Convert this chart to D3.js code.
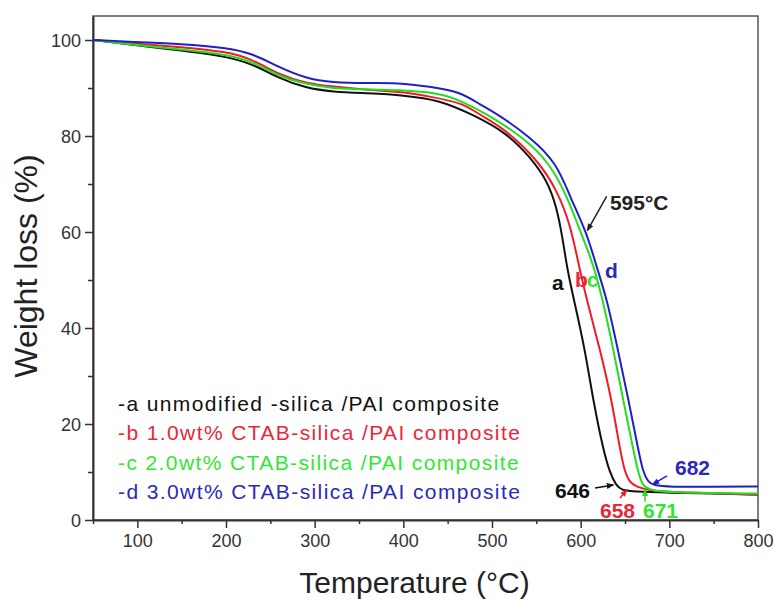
<!DOCTYPE html>
<html>
<head>
<meta charset="utf-8">
<script src="https://cdn.jsdelivr.net/npm/d3@7"></script>
<style>
    body { margin: 0; background: #fff; }
    text { font-family: "Liberation Sans", Arial, sans-serif; }
</style>
</head>
<body>
<div id="chart-area"></div>
<script>

// curve a - unmodified silica
var tempA = [50, 95, 150, 200, 230, 260, 290, 320, 360, 400, 441, 479, 517, 543, 562, 573, 580, 585, 592.5, 605, 614, 625.5, 633, 640, 646, 660, 700, 750, 800];
var lossA = [100, 99, 97.8, 96.6, 95, 92, 90, 89.2, 88.9, 88.5, 87.5, 84.4, 80.6, 75.6, 70.8, 65.2, 58.3, 52.1, 45.8, 35.4, 25, 14.6, 9.8, 7.2, 6.2, 5.9, 5.7, 5.5, 5.3];

// curve b - 1.0wt%
var tempB = [50, 95, 150, 200, 230, 260, 290, 320, 360, 400, 430, 467, 487, 517, 554, 573, 588, 599, 607, 622, 635, 644.4, 650, 655, 661, 680, 720, 800];
var lossB = [100, 99.3, 98.5, 97.6, 96, 92.7, 91, 90.3, 89.6, 89.2, 88.2, 86.9, 84.3, 81.2, 74.4, 68.7, 61.9, 52.1, 45.8, 35.4, 25, 14.6, 9.8, 8, 7, 6, 5.7, 5.3];

// curve c - 2.0wt%
var tempC = [50, 95, 150, 200, 230, 260, 290, 320, 360, 393, 441, 465, 492, 535, 565, 585, 599, 614, 625, 637, 648, 659.4, 665, 670, 680, 720, 800];
var lossC = [100, 99, 98, 97, 95.5, 92.4, 90.8, 89.9, 89.7, 89.6, 89, 87.3, 84.8, 79.8, 74.4, 67.3, 60.4, 53.5, 45.8, 35.4, 25, 14.6, 9.8, 7, 6, 5.7, 5.5];

// curve d - 3.0wt%
var tempD = [50, 95, 150, 200, 230, 260, 290, 320, 360, 393, 430, 464, 486, 506, 543, 573, 588, 607, 618, 630, 642, 654, 665, 670.6, 676, 682, 700, 750, 800];
var lossD = [100, 99.6, 99.2, 98.4, 97.2, 94.3, 92, 91.1, 91, 91.1, 90.3, 89.2, 86.6, 84.6, 79.8, 74.4, 67.3, 59.8, 52.7, 45.8, 35.4, 25, 14.6, 9.8, 8, 7.2, 6.9, 6.9, 7];

var seriesKeys = ["a", "b", "c", "d"];
var legendLabels = [
    "-a unmodified -silica /PAI composite",
    "-b 1.0wt% CTAB-silica /PAI composite",
    "-c 2.0wt% CTAB-silica /PAI composite",
    "-d 3.0wt% CTAB-silica /PAI composite"
];
var xTicks = [100, 200, 300, 400, 500, 600, 700, 800];
var yTicks = [0, 20, 40, 60, 80, 100];

// onset / end temperatures marked on the plot
var endLabels = ["646", "658", "671", "682"];
var onsetLabel = "595°C";

// constructor function
LineChart = function(_parentElement, _svgWidth, _svgHeight) {
    this.parentElement = _parentElement;
    this.svgWidth = _svgWidth;
    this.svgHeight = _svgHeight;

    this.initVis();
}

LineChart.prototype.initVis = function() {
    var vis = this;

    vis.margin = {top: 16, right: 16, bottom: 80, left: 93};
    vis.width = vis.svgWidth - vis.margin.left - vis.margin.right;
    vis.height = vis.svgHeight - vis.margin.top - vis.margin.bottom;

    vis.colour = d3.scaleOrdinal()
        .domain(seriesKeys)
        .range(["#111111", "#ee1c24", "#22dd22", "#2020c8"]);
    vis.textColour = d3.scaleOrdinal()
        .domain(seriesKeys)
        .range(["#111111", "#e8283a", "#33e633", "#2a2ab8"]);

    vis.svg = d3.select(vis.parentElement).append("svg")
        .attr("width", vis.svgWidth).attr("height", vis.svgHeight);

    vis.g = vis.svg.append("g")
        .attr("transform", "translate(" + vis.margin.left + " " + vis.margin.top + ")");

    vis.x = d3.scaleLinear().domain([50, 800]).range([0, vis.width]);
    vis.y = d3.scaleLinear().domain([0, 105]).range([vis.height, 0]);

    // frame
    vis.g.append("rect")
        .attr("width", vis.width).attr("height", vis.height)
        .attr("fill", "none")
        .attr("stroke", "#555")
        .attr("stroke-width", 1.5);

    vis.wrangleData();
}

LineChart.prototype.wrangleData = function() {
    var vis = this;

    var temps = [tempA, tempB, tempC, tempD];
    var losses = [lossA, lossB, lossC, lossD];
    vis.data = seriesKeys.map(function(k, i) {
        return {
            key: k,
            values: temps[i].map(function(t, j) { return {t: t, v: losses[i][j]}; })
        };
    });

    vis.updateVis();
}

LineChart.prototype.updateVis = function() {
    var vis = this;

    // minor ticks
    var xMinor = d3.range(50, 801, 50).filter(function(d) { return d % 100 != 0; });
    var yMinor = d3.range(10, 101, 20);

    vis.g.append("g")
        .attr("transform", "translate(0 " + vis.height + ")")
        .call(d3.axisBottom(vis.x).tickValues(xMinor).tickSize(4).tickFormat(""))
        .call(function(g) { g.select(".domain").remove(); });
    vis.g.append("g")
        .call(d3.axisLeft(vis.y).tickValues(yMinor).tickSize(5).tickFormat(""))
        .call(function(g) { g.select(".domain").remove(); });

    // main axes
    vis.xAxis = vis.g.append("g")
        .attr("class", "x axis")
        .attr("transform", "translate(0 " + vis.height + ")")
        .call(d3.axisBottom(vis.x).tickValues(xTicks).tickSize(8).tickSizeOuter(0).tickPadding(6));
    vis.yAxis = vis.g.append("g")
        .attr("class", "y axis")
        .call(d3.axisLeft(vis.y).tickValues(yTicks).tickSize(8).tickSizeOuter(0).tickPadding(4));

    vis.g.selectAll(".axis .domain").attr("stroke", "#333").attr("stroke-width", 2);
    vis.g.selectAll(".tick line").attr("stroke", "#333").attr("stroke-width", 1.5);
    vis.g.selectAll(".axis text")
        .attr("font-size", "18px")
        .attr("font-family", "Liberation Sans, Arial, sans-serif")
        .attr("fill", "#333");
    vis.yAxis.selectAll("text").attr("dy", "0.35em");

    // axis titles
    vis.g.append("text")
        .attr("x", vis.width / 2 - 11).attr("y", vis.height + 73)
        .attr("text-anchor", "middle")
        .attr("font-size", "30px")
        .attr("fill", "#222")
        .text("Temperature (°C)");
    vis.g.append("text")
        .attr("transform", "translate(" + (-vis.margin.left + 37) + " " + (vis.height / 2 - 2) + ") rotate(-90)")
        .attr("text-anchor", "middle")
        .attr("font-size", "32px")
        .attr("fill", "#222")
        .text("Weight loss (%)");

    // curves
    var line = d3.line()
        .x(function(d) { return vis.x(d.t); })
        .y(function(d) { return vis.y(d.v); })
        .curve(d3.curveBasis);

    vis.g.append("g").selectAll("path")
        .data(vis.data)
        .enter().append("path")
            .attr("fill", "none")
            .attr("stroke", function(d) { return vis.colour(d.key); })
            .attr("stroke-width", 2)
            .attr("d", function(d) { return line(d.values); });

    // legend
    vis.legend = vis.g.append("g")
        .attr("transform", "translate(25 " + (vis.height - 109) + ")");
    vis.legend.selectAll("text")
        .data(legendLabels)
        .enter().append("text")
            .attr("x", 0)
            .attr("y", function(d, i) { return i * 29.3; })
            .attr("font-size", "21px")
            .attr("letter-spacing", "1.4px")
            .attr("fill", function(d, i) { return vis.textColour(seriesKeys[i]); })
            .text(function(d) { return d; });

    // annotations (data coordinates)
    var bold = function(sel) {
        return sel.attr("font-weight", "bold").attr("font-size", "21px");
    };

    var letterPos = [[567.7, 47.9], [593.6, 48.5], [606.8, 48.5], [627.4, 50.4]];
    vis.g.append("g").selectAll("text")
        .data(seriesKeys)
        .enter().append("text")
            .call(bold)
            .attr("x", function(d, i) { return vis.x(letterPos[i][0]); })
            .attr("y", function(d, i) { return vis.y(letterPos[i][1]); })
            .attr("fill", function(d) { return vis.textColour(d); })
            .text(function(d) { return d; });

    var endPos = [[571, 4.6], [621.8, 0.4], [670.3, 0.4], [706.4, 9.4]];
    vis.g.append("g").selectAll("text")
        .data(endLabels)
        .enter().append("text")
            .call(bold)
            .attr("x", function(d, i) { return vis.x(endPos[i][0]); })
            .attr("y", function(d, i) { return vis.y(endPos[i][1]); })
            .attr("fill", function(d, i) { return vis.textColour(seriesKeys[i]); })
            .text(function(d) { return d; });

    vis.g.append("text")
        .call(bold)
        .attr("x", vis.x(633)).attr("y", vis.y(64.6))
        .attr("fill", "#222")
        .text(onsetLabel);

    // arrows
    var defs = vis.svg.append("defs");
    seriesKeys.concat(["o"]).forEach(function(k) {
        defs.append("marker")
            .attr("id", "arrow-" + k)
            .attr("viewBox", "0 0 10 10")
            .attr("refX", 9).attr("refY", 5)
            .attr("markerWidth", 5).attr("markerHeight", 5)
            .attr("orient", "auto")
            .append("path")
                .attr("d", "M0,1 L10,5 L0,9 Z")
                .attr("fill", k == "o" ? "#222" : vis.colour(k));
    });

    var arrows = [
        {k: "o", from: [629.3, 67.4], to: [607.5, 60.3]},
        {k: "a", from: [616.2, 6.67], to: [637, 7.3]},
        {k: "b", from: [644.4, 4.6], to: [652.2, 6.3]},
        {k: "c", from: [672.6, 3.8], to: [672.6, 6.4]},
        {k: "d", from: [697.4, 9.2], to: [681, 7.4]}
    ];
    vis.g.append("g").selectAll("line")
        .data(arrows)
        .enter().append("line")
            .attr("x1", function(d) { return vis.x(d.from[0]); })
            .attr("y1", function(d) { return vis.y(d.from[1]); })
            .attr("x2", function(d) { return vis.x(d.to[0]); })
            .attr("y2", function(d) { return vis.y(d.to[1]); })
            .attr("stroke", function(d) { return d.k == "o" ? "#222" : vis.colour(d.k); })
            .attr("stroke-width", 1.5)
            .attr("marker-end", function(d) { return "url(#arrow-" + d.k + ")"; });
}

var chart = new LineChart("#chart-area", 774, 600);

</script>
</body>
</html>
